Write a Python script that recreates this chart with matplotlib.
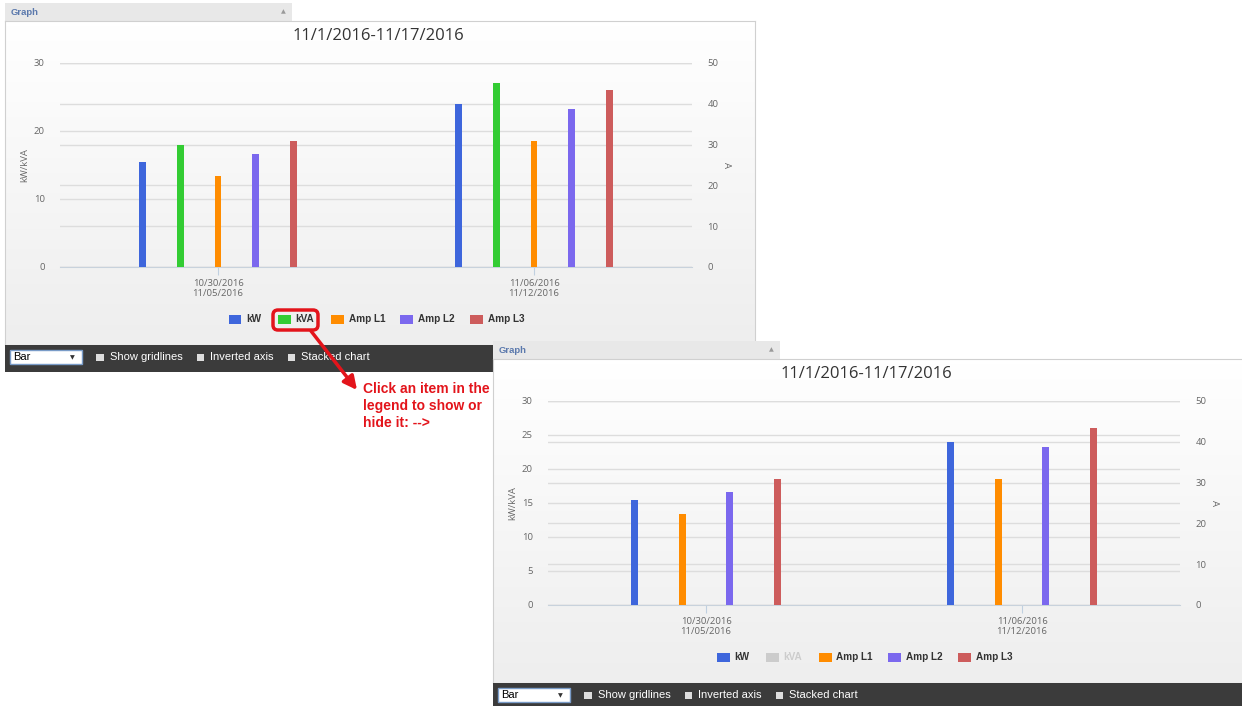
import numpy as np
import matplotlib
matplotlib.use("Agg")
import matplotlib.pyplot as plt
from matplotlib.patches import Rectangle, FancyBboxPatch, FancyArrowPatch
from matplotlib.colors import LinearSegmentedColormap
from matplotlib.transforms import IdentityTransform

plt.rcParams["font.family"] = ["Open Sans", "DejaVu Sans"]

# =====================
# data
# =====================
title = "11/1/2016-11/17/2016"
categories = ["10/30/2016\n11/05/2016", "11/06/2016\n11/12/2016"]
series_names = ["kW", "kVA", "Amp L1", "Amp L2", "Amp L3"]
series_colors = ["#3e66dc", "#33cc33", "#ff8c00", "#7b68ee", "#cd5c5c"]
on_left_axis = [True, True, False, False, False]

kw = [15.4, 23.9]
kva = [17.9, 27.0]
amp_l1 = [22.3, 30.9]
amp_l2 = [27.6, 38.8]
amp_l3 = [30.9, 43.4]
series_values = [kw, kva, amp_l1, amp_l2, amp_l3]

left_ticks_1 = [0, 10, 20, 30]
left_ticks_2 = [0, 5, 10, 15, 20, 25, 30]
right_ticks = [0, 10, 20, 30, 40, 50]

note_lines = ["Click an item in the", "legend to show or", "hide it: -->"]
toolbar_items = ["Show gridlines", "Inverted axis", "Stacked chart"]

# =====================
# layout helpers (pixel coords, top-left origin)
# =====================
W, H = 1242, 706
fig = plt.figure(figsize=(W / 100, H / 100), dpi=100)
fig.patch.set_facecolor("white")

ARIAL = ["Liberation Sans", "DejaVu Sans"]
grad = LinearSegmentedColormap.from_list("bg", ["#ffffff", "#eeeeee"])


def box(x0, y0, x1, y1, z, **kw):
    fig.add_artist(Rectangle((x0 / W, 1 - y1 / H), (x1 - x0) / W, (y1 - y0) / H,
                             transform=fig.transFigure, zorder=z, **kw))


def label(x, y, s, z, **kw):
    kw.setdefault("va", "center")
    fig.text(x / W, 1 - y / H, s, zorder=z, **kw)


def axes_at(x0, y0, x1, y1, z):
    ax = fig.add_axes([x0 / W, 1 - y1 / H, (x1 - x0) / W, (y1 - y0) / H])
    ax.set_zorder(z)
    return ax


def draw_panel(px, py, visible, left_ticks, z):
    # header bar
    box(px, py, px + 287, py + 18, z, facecolor="#e8e8e8", edgecolor="none")
    label(px + 6, py + 9.5, "Graph", z + 1, fontsize=6.8, fontweight="bold",
          color="#5b79ad", family=ARIAL)
    label(px + 278, py + 9, "▲", z + 1, fontsize=4.5, color="#9a9a9a",
          ha="center", family="DejaVu Sans")

    # chart background
    bg = axes_at(px, py + 18, px + 750, py + 342, z)
    bg.imshow(np.linspace(0, 1, 64).reshape(-1, 1), cmap=grad, aspect="auto",
              extent=[0, 1, 0, 1])
    bg.set_xticks([])
    bg.set_yticks([])
    for s in bg.spines.values():
        s.set_color("#d0d0d0")

    # gridlines for right axis (under everything)
    gax = axes_at(px + 55, py + 60, px + 687, py + 264, z + 1)
    gax.set_facecolor("none")
    gax.set_ylim(0, 50)
    gax.set_yticks(right_ticks)
    gax.set_xticks([])
    gax.tick_params(left=False, labelleft=False)
    gax.grid(axis="y", color="#dddddd", lw=1)
    for s in gax.spines.values():
        s.set_visible(False)

    # left axis
    ax = axes_at(px + 55, py + 60, px + 687, py + 264, z + 2)
    ax.set_facecolor("none")
    ax.set_xlim(-0.5, 1.5)
    ax.set_ylim(0, 30)
    ax.set_yticks(left_ticks)
    ax.grid(axis="y", color="#dddddd", lw=1)
    ax.set_axisbelow(True)
    ax.set_xticks(range(len(categories)))
    ax.set_xticklabels(categories, linespacing=1.1)
    ax.tick_params(axis="y", length=0, pad=11, labelsize=6.8, labelcolor="#666666")
    ax.tick_params(axis="x", length=6, color="#c0d0e0", pad=2.5, labelsize=6.8,
                   labelcolor="#666666")
    for k in ["top", "left", "right"]:
        ax.spines[k].set_visible(False)
    ax.spines["bottom"].set_color("#c8d2dc")

    # right axis
    ax2 = ax.twinx()
    ax2.set_zorder(z + 3)
    ax2.set_ylim(0, 50)
    ax2.set_yticks(right_ticks)
    ax2.tick_params(axis="y", length=0, pad=11, labelsize=6.8, labelcolor="#666666")
    for s in ax2.spines.values():
        s.set_visible(False)

    # bars
    shown = [i for i in range(len(series_names)) if visible[i]]
    n = len(shown)
    for j, i in enumerate(shown):
        off = (j - (n - 1) / 2) * 0.6 / n
        target = ax if on_left_axis[i] else ax2
        target.bar(np.arange(len(categories)) + off, series_values[i], width=0.022,
                   color=series_colors[i], zorder=3)

    # titles
    label(px + 373, py + 33, title, z + 4, fontsize=12, color="#333333", ha="center")
    label(px + 20, py + 162, "kW/kVA", z + 4, fontsize=6.8, color="#666666",
          rotation=90, ha="center")
    label(px + 721, py + 162, "A", z + 4, fontsize=6.8, color="#666666",
          rotation=270, ha="center")

    # legend
    legend_x = [224, 273, 326, 395, 465]
    for i, name in enumerate(series_names):
        bx = px + legend_x[i]
        c = series_colors[i] if visible[i] else "#cccccc"
        tc = "#333333" if visible[i] else "#cccccc"
        box(bx, py + 312, bx + 12.5, py + 321, z + 4, facecolor=c, edgecolor="none")
        label(bx + 17.5, py + 316.5, name, z + 4, fontsize=7.2, fontweight="bold",
              color=tc, family=ARIAL)

    # toolbar
    box(px, py + 342, px + 750, py + 369, z + 4, facecolor="#3b3b3b", edgecolor="none")
    box(px + 5, py + 347, px + 76.5, py + 361, z + 5, facecolor="white",
        edgecolor="#7a9cc8", lw=1)
    label(px + 8, py + 354, "Bar", z + 6, fontsize=8, color="black", family=ARIAL)
    label(px + 67, py + 354.5, "▼", z + 6, fontsize=4.5, color="#333333",
          ha="center", family="DejaVu Sans")
    for cx, name in zip([91, 191.5, 282.5], toolbar_items):
        box(px + cx, py + 350.5, px + cx + 7.5, py + 358, z + 5,
            facecolor="#dddddd", edgecolor="none")
        label(px + cx + 13.5, py + 354.5, name, z + 5, fontsize=8, color="white",
              family=ARIAL)


draw_panel(5, 3, [True, True, True, True, True], left_ticks_1, 1)
draw_panel(493, 341, [True, False, True, True, True], left_ticks_2, 20)

# =====================
# annotation
# =====================
red = "#e3141b"
fig.add_artist(FancyBboxPatch((273, H - 330), 45, 20,
                              boxstyle="round,pad=0,rounding_size=5",
                              transform=IdentityTransform(), facecolor="none",
                              edgecolor=red, lw=2.5, zorder=15))
fig.add_artist(FancyArrowPatch((311, H - 331), (357, H - 390),
                               arrowstyle="-|>,head_length=8,head_width=4",
                               transform=IdentityTransform(), color=red, lw=2.5,
                               zorder=15, shrinkA=0, shrinkB=0))
for k, line in enumerate(note_lines):
    label(363, 389 + 17 * k, line, 15, fontsize=10, fontweight="bold", color=red,
          family=ARIAL)

fig.savefig("out.png", dpi=100)
